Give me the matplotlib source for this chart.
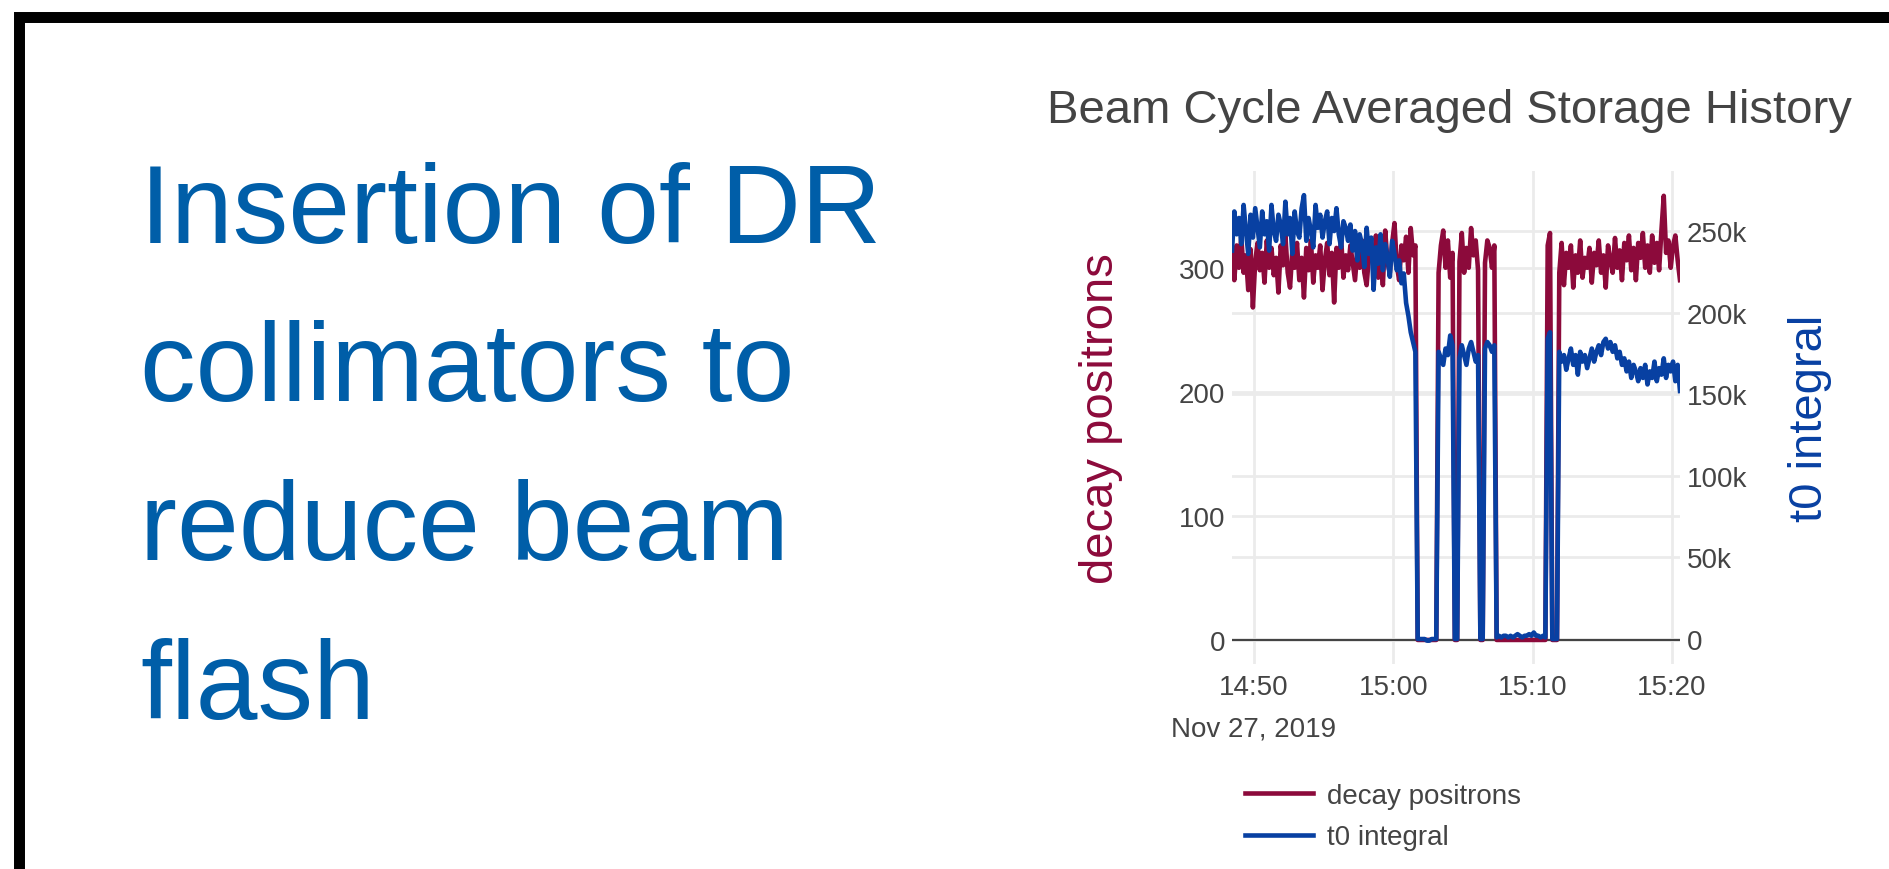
import pandas as pd
import matplotlib
matplotlib.use("Agg")
import matplotlib.pyplot as plt
import matplotlib.dates as mdates
from matplotlib.patches import Rectangle
from matplotlib.transforms import blended_transform_factory

plt.rcParams['font.family'] = ['Liberation Sans', 'DejaVu Sans']

# beam cycle averages, one point every 10 s
t_start = "2019-11-27 14:48:25"
step = "10s"

# before the collimators go in (14:48 - 15:01)
decay_pre = [312, 290, 318, 300, 325, 296, 310, 282, 315, 268,
             305, 320, 298, 312, 288, 322, 300, 316, 294, 308,
             280, 318, 302, 326, 296, 284, 314, 300, 320, 290,
             308, 276, 316, 298, 322, 288, 310, 300, 318, 282,
             306, 320, 294, 312, 272, 316, 300, 324, 292, 310,
             298, 318, 304, 290, 314, 300, 322, 296, 286, 310,
             318, 300, 326, 292, 312, 286, 330, 304, 296, 320,
             336, 302, 290, 318, 306, 325, 296, 332, 310, 318]
t0_pre = [238, 262, 248, 258, 242, 266, 250, 236, 260, 246,
          264, 252, 240, 262, 248, 256, 238, 266, 250, 244,
          260, 254, 242, 268, 248, 258, 236, 262, 250, 246,
          264, 272, 244, 258, 250, 240, 266, 252, 260, 246,
          256, 262, 242, 258, 250, 264, 248, 240, 256, 252,
          244, 254, 238, 250, 232, 248, 242, 228, 252, 236,
          246, 214, 240, 230, 248, 226, 242, 234, 222, 244,
          236, 226, 232, 218, 224, 206, 198, 188, 182, 176]

# insertion tests, beam off in between (15:01 - 15:12)
decay_gap = [0, 0, 0, 0, 0, 0, 0, 0, 0,
             296, 318, 330, 300, 322, 292, 312,
             0, 0,
             305, 328, 296, 316, 300, 332, 310, 322, 298,
             0, 0,
             304, 322, 316, 300, 318,
             0, 0, 0, 0, 0, 0, 0, 0, 0, 0, 0, 0, 0, 0, 0, 0, 0, 0, 0, 0, 0, 0,
             318, 328,
             0, 0, 0]
t0_gap = [0, 0, 0, 0, -1, -1, 0, 0, 0,
          176, 172, 168, 178, 174, 186, 180,
          0, 0,
          172, 180, 174, 168, 178, 182, 176, 170, 174,
          0, 0,
          178, 182, 180, 176, 180,
          1, 2, 1, 2, 2, 1, 2, 1, 2, 3, 2, 1, 2, 2, 3, 2, 4, 2, 2, 1, 2, 1,
          184, 188,
          0, 0, 0]

# collimators in (15:12 - 15:20)
decay_post = [296, 320, 286, 312, 300, 318, 284, 310, 296, 322,
              292, 308, 300, 316, 288, 312, 302, 322, 296, 310,
              284, 318, 306, 296, 324, 300, 314, 290, 320, 306,
              326, 298, 316, 290, 320, 308, 328, 300, 318, 296,
              326, 304, 320, 298, 330, 358, 312, 322, 300, 318,
              326, 306, 290]
t0_post = [176, 170, 174, 165, 172, 178, 168, 174, 162, 176,
           170, 174, 166, 172, 178, 170, 176, 180, 174, 182,
           184, 178, 182, 176, 180, 172, 176, 168, 172, 164,
           170, 160, 168, 164, 158, 166, 160, 168, 156, 164,
           160, 170, 158, 166, 162, 172, 160, 168, 164, 170,
           158, 168, 152]

left_ticks = [0, 100, 200, 300]
right_ticks = [0, 50000, 100000, 150000, 200000, 250000]
right_labels = ['0', '50k', '100k', '150k', '200k', '250k']
slide_lines = ["Insertion of DR", "collimators to", "reduce beam", "flash"]

decay = decay_pre + decay_gap + decay_post
t0 = [v * 1000 for v in t0_pre + t0_gap + t0_post]
times = pd.date_range(t_start, periods=len(decay), freq=step)

RED = '#8c0a3b'
BLUE = '#0840a2'
GREY = '#444444'
GRID = '#ebebeb'
LW = 3.3

fig = plt.figure(figsize=(18.9, 8.7), dpi=100)

# slide frame
fig.add_artist(Rectangle((18.5 / 1890, -0.1), 1.2, 1.1 - 18 / 870, fill=False,
                         ec='black', lw=7.9, transform=fig.transFigure, clip_on=False))

# slide text
for i, line in enumerate(slide_lines):
    fig.text(140 / 1890, 1 - (243 + 158.5 * i) / 870, line, fontsize=80,
             color='#005ea8', va='baseline', ha='left')

fig.text(1047 / 1890, 1 - 123 / 870, "Beam Cycle Averaged Storage History",
         fontsize=34, color=GREY, va='baseline', ha='left')

rect = [1232 / 1890, 1 - 665 / 870, 448 / 1890, 493 / 870]
axg = fig.add_axes(rect)                 # right-axis grid, underneath everything
ax = fig.add_axes(rect, sharex=axg)      # decay positrons
ax2 = fig.add_axes(rect, sharex=axg)     # t0 integral
for a in (axg, ax, ax2):
    a.patch.set_visible(False)
    for s in a.spines.values():
        s.set_visible(False)
    a.tick_params(length=0, labelsize=20, labelcolor=GREY)

ylim_left = (-19.4, 378)
ylim_right = (-15300, 286800)

axg.set_ylim(ylim_right)
axg.set_yticks(right_ticks)
axg.grid(axis='y', color=GRID, lw=2)
axg.tick_params(labelleft=False, labelbottom=False)

ax.plot(times, decay, color=RED, lw=LW, label='decay positrons', zorder=3)
ax.set_ylim(ylim_left)
ax.set_yticks(left_ticks)
ax.set_yticklabels([str(v) for v in left_ticks])
ax.tick_params(axis='y', pad=5)
ax.tick_params(axis='x', pad=7)
ax.grid(True, color=GRID, lw=2)
ax.axhline(0, color=GREY, lw=1.5, zorder=2)
ax.set_ylabel('decay positrons', fontsize=34, color=RED)
ax.yaxis.set_label_coords(-0.243, 0.5)

ax2.plot(times, t0, color=BLUE, lw=LW, label='t0 integral', zorder=3)
ax2.set_ylim(ylim_right)
ax2.yaxis.tick_right()
ax2.set_yticks(right_ticks)
ax2.set_yticklabels(right_labels)
ax2.tick_params(axis='y', pad=5)
ax2.tick_params(labelbottom=False)
ax2.yaxis.set_label_position('right')
ax2.set_ylabel('t0 integral', fontsize=34, color=BLUE)
ax2.yaxis.set_label_coords(1.241, 0.5)

ax.set_xlim(times[0], times[-1])
ax.xaxis.set_major_locator(mdates.MinuteLocator(byminute=range(0, 60, 10)))
ax.xaxis.set_major_formatter(mdates.DateFormatter('%H:%M'))

# date under the first tick, as plotly does
first_tick = pd.Timestamp("2019-11-27 14:50")
tr = blended_transform_factory(ax.transData, fig.transFigure)
ax.text(mdates.date2num(first_tick), 1 - 737 / 870, "Nov 27, 2019", transform=tr,
        fontsize=20, color=GREY, ha='center', va='baseline')

h1 = ax.get_lines()[0]
h2 = ax2.get_lines()[0]
fig.legend([h1, h2], ['decay positrons', 't0 integral'], loc='upper left',
           bbox_to_anchor=(1245 / 1890, 1 - 784 / 870), frameon=False,
           borderpad=0, borderaxespad=0, fontsize=20, labelcolor=GREY,
           handlelength=2.45, handletextpad=0.5, labelspacing=0.55)

fig.savefig('out.png', dpi=100, facecolor='white')
